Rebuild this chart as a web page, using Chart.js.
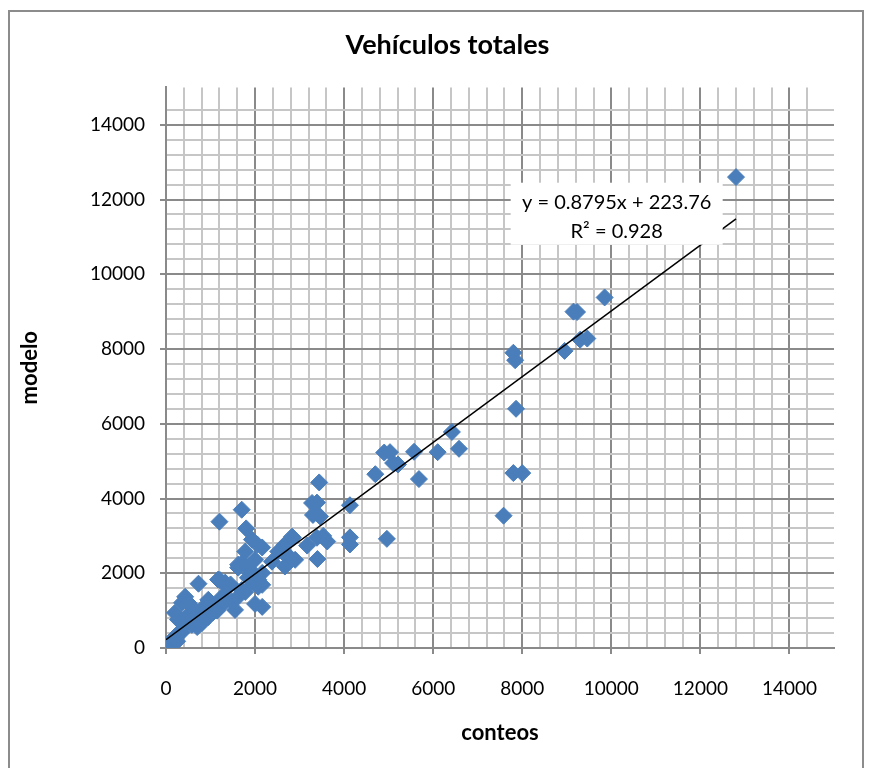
<!DOCTYPE html>
<html>
<head>
<meta charset="utf-8">
<script src="https://cdn.jsdelivr.net/npm/chart.js@4/dist/chart.umd.min.js"></script>
<style>
  html, body { margin: 0; padding: 0; background: #fff; }
  #wrap { position: relative; width: 878px; height: 768px; overflow: hidden; }
  #c { position: absolute; left: 0; top: 0; }
  #frame { position: absolute; left: 8px; top: 10px; width: 852px; height: 800px; border: 2px solid #8c8c8c; pointer-events: none; }
</style>
</head>
<body>
<div id="wrap">
  <canvas id="c" width="878" height="768"></canvas>
  <div id="frame"></div>
</div>
<script>
// ---- Data ----
const conteos = [
  0, 20, 50, 80, 110, 150, 200, 250, 300, 360,
  200, 270, 360, 430, 500, 500, 420, 580, 650, 700,
  730, 810, 880, 950, 950, 1050, 1100, 1150, 1260, 1210,
  1300, 1390, 1480, 1550, 1620, 1700, 1780, 1840, 2000, 1620,
  2000, 2160, 2070, 2160, 1330, 1170, 1450, 1900, 600, 750,
  850, 1000,
  1200, 1700, 1800, 1930, 2050, 2160, 1780, 1710, 2000, 2670,
  2830, 2520, 2900, 2670, 2380, 1620, 1890, 2160, 1930, 2070,
  3440, 3280, 3390, 3300, 3460, 4130, 3530, 3620, 2850, 4130,
  4130, 4960, 3400, 2790, 2630, 3170, 3390,
  4700, 4900, 5030, 5100, 5210, 5570, 5680, 6100, 6420, 6580,
  7580, 7800, 8000, 7860, 7800, 7840, 8950, 9150, 9230, 9300,
  9460, 9850, 12800
];
const modelo = [
  0, 40, 10, 120, 60, 230, 300, 180, 420, 430,
  940, 760, 1210, 1370, 1210, 880, 620, 620, 1020, 560,
  1720, 670, 900, 830, 1290, 950, 1100, 1000, 1370, 1820,
  1200, 1610, 1240, 1020, 1370, 1550, 1500, 1880, 1750, 2230,
  1180, 1100, 1830, 1690, 1750, 1830, 1700, 2000, 800, 700,
  1100, 1200,
  3380, 3700, 3200, 2900, 2770, 2690, 2580, 2280, 2360, 2770,
  2980, 2580, 2360, 2180, 2310, 2150, 2090, 2010, 1770, 1640,
  4430, 3880, 3890, 3560, 3520, 3820, 3000, 2850, 2950, 2960,
  2770, 2920, 2380, 2420, 2550, 2740, 2950,
  4650, 5230, 5240, 4950, 4910, 5250, 4520, 5240, 5780, 5330,
  3540, 4680, 4680, 6400, 7900, 7700, 7950, 9000, 8990, 8250,
  8280, 9380, 12600
];
const xTickLabels = [0, 2000, 4000, 6000, 8000, 10000, 12000, 14000];
const yTickLabels = [0, 2000, 4000, 6000, 8000, 10000, 12000, 14000];
const trendSlope = 0.8795;
const trendIntercept = 223.76;
const trendR2 = 0.928;
const axisMax = 15000;
const minorStep = 400;

// ---- Build ----
const points = conteos.map((x, i) => ({ x: x, y: modelo[i] }));
const xEnd = Math.max(...conteos);
const trendPts = [
  { x: 0, y: trendIntercept },
  { x: xEnd, y: trendSlope * xEnd + trendIntercept }
];

const FONT = 'Lato, "Open Sans", sans-serif';
const MAJOR = '#8a8a8a', MINOR = '#c6c6c6', NONE = 'rgba(0,0,0,0)';

function gridColor(labels) {
  return (ctx) => {
    const v = ctx.tick && ctx.tick.value;
    if (v === undefined) return MINOR;
    if (v >= axisMax) return NONE;
    return labels.includes(v) ? MAJOR : MINOR;
  };
}
function tickColor(labels) {
  return (ctx) => {
    const v = ctx.tick && ctx.tick.value;
    return labels.includes(v) ? MAJOR : NONE;
  };
}

const eqLabel = {
  id: 'eqLabel',
  afterDatasetsDraw(chart) {
    const { ctx, scales } = chart;
    const cx = scales.x.getPixelForValue(10120);
    const cy = scales.y.getPixelForValue(11620);
    const l1 = 'y = ' + trendSlope + 'x + ' + trendIntercept;
    const l2 = 'R² = ' + trendR2;
    ctx.save();
    ctx.font = '20px ' + FONT;
    ctx.fillStyle = '#ffffff';
    ctx.fillRect(cx - 106, cy - 31, 212, 62);
    ctx.fillStyle = '#000000';
    ctx.textAlign = 'center';
    ctx.textBaseline = 'middle';
    ctx.fillText(l1, cx, cy - 11);
    ctx.fillText(l2, cx, cy + 18);
    ctx.restore();
  }
};

new Chart(document.getElementById('c'), {
  type: 'scatter',
  data: {
    datasets: [
      {
        type: 'line',
        label: 'Lineal',
        data: trendPts,
        borderColor: '#000000',
        borderWidth: 1.5,
        pointRadius: 0,
        fill: false,
        order: 0
      },
      {
        label: 'modelo',
        data: points,
        pointStyle: 'rectRot',
        pointRadius: 8.5,
        pointHoverRadius: 8.5,
        backgroundColor: '#4a7ebb',
        borderColor: '#4a7ebb',
        borderWidth: 1,
        order: 1
      }
    ]
  },
  options: {
    responsive: false,
    animation: false,
    devicePixelRatio: 1,
    layout: { padding: { left: 17, right: 0, top: 0, bottom: 22 } },
    plugins: {
      legend: { display: false },
      tooltip: { enabled: false },
      title: {
        display: true,
        text: 'Vehículos totales',
        color: '#000',
        font: { family: FONT, size: 27, weight: 'bold' },
        padding: { top: 29, bottom: 26 }
      }
    },
    scales: {
      x: {
        type: 'linear',
        position: 'bottom',
        min: 0,
        max: axisMax,
        afterFit: (s) => { s.height = 98; },
        ticks: {
          stepSize: minorStep,
          autoSkip: false,
          maxRotation: 0,
          padding: 23,
          color: '#000',
          font: { family: FONT, size: 19 },
          callback: (v) => xTickLabels.includes(v) ? String(v) : ''
        },
        grid: {
          color: gridColor(xTickLabels),
          lineWidth: 2,
          tickLength: 6,
          tickColor: tickColor(xTickLabels),
          tickWidth: 2
        },
        border: { color: MAJOR, width: 2 },
        title: {
          display: true,
          text: 'conteos',
          color: '#000',
          font: { family: FONT, size: 22, weight: 'bold' },
          padding: { top: 0, bottom: 0 }
        }
      },
      y: {
        type: 'linear',
        position: 'left',
        min: 0,
        max: axisMax,
        afterFit: (s) => { s.width = 149; },
        ticks: {
          stepSize: minorStep,
          autoSkip: false,
          padding: 15,
          color: '#000',
          font: { family: FONT, size: 19 },
          callback: (v) => yTickLabels.includes(v) ? String(v) : ''
        },
        grid: {
          color: gridColor(yTickLabels),
          lineWidth: 2,
          tickLength: 6,
          tickColor: tickColor(yTickLabels),
          tickWidth: 2
        },
        border: { color: MAJOR, width: 2 },
        title: {
          display: true,
          text: 'modelo',
          color: '#000',
          font: { family: FONT, size: 22, weight: 'bold' },
          padding: { top: 0, bottom: 0 }
        }
      },
      yRight: {
        type: 'linear',
        position: 'right',
        display: true,
        afterFit: (s) => { s.width = 44; },
        ticks: { display: false },
        grid: { display: false, drawTicks: false },
        border: { display: false }
      }
    }
  },
  plugins: [eqLabel]
});
</script>
</body>
</html>
